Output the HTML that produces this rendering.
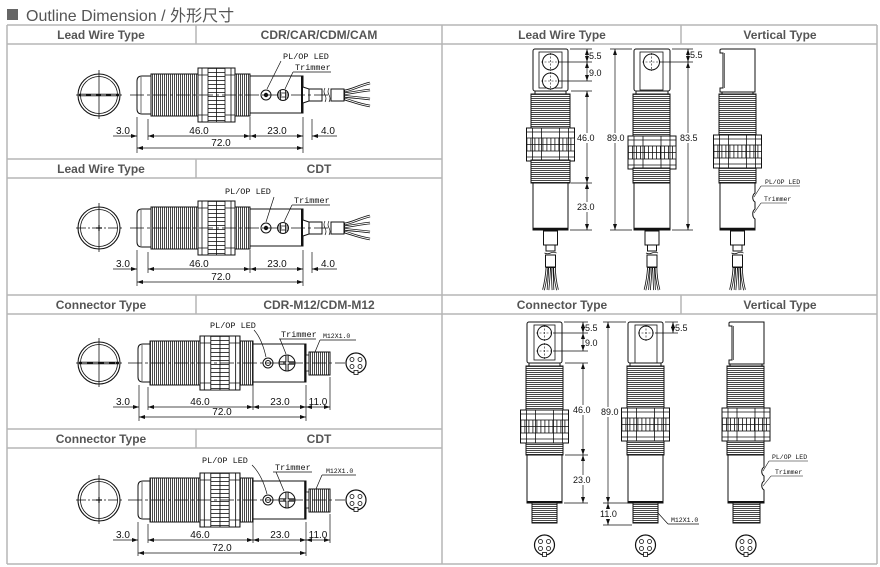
<!DOCTYPE html>
<html><head><meta charset="utf-8"><style>
html,body{margin:0;padding:0;background:#fff;}
svg{display:block;}
.h{font-family:"Liberation Sans",Arial,sans-serif;font-weight:bold;font-size:12px;fill:#555;text-anchor:middle;}
.d{font-family:"Liberation Sans",Arial,sans-serif;font-size:10px;fill:#111;}
.dv{font-family:"Liberation Sans",Arial,sans-serif;font-size:9px;fill:#111;}
.m{font-family:"Liberation Mono","DejaVu Sans Mono",monospace;font-size:8.5px;fill:#111;}
.ms{font-family:"Liberation Mono","DejaVu Sans Mono",monospace;font-size:6.5px;fill:#111;}
.c{text-anchor:middle;}
</style></head><body>
<svg width="880" height="567" viewBox="0 0 880 567" xmlns="http://www.w3.org/2000/svg">
<defs>
<pattern id="vt" width="2" height="10" patternUnits="userSpaceOnUse"><rect width="2" height="10" fill="#fff"/><rect width="0.9" height="10" fill="#333"/></pattern>
<pattern id="ht" width="10" height="2" patternUnits="userSpaceOnUse"><rect width="10" height="2" fill="#fff"/><rect width="10" height="0.9" fill="#333"/></pattern>
<pattern id="vn" width="4" height="20" patternUnits="userSpaceOnUse"><rect width="4" height="20" fill="#fff"/><rect width="0.8" height="20" fill="#111"/></pattern>
<pattern id="hn" width="20" height="4" patternUnits="userSpaceOnUse"><rect width="20" height="4" fill="#fff"/><rect width="20" height="0.8" fill="#111"/></pattern>
<marker id="a" viewBox="0 0 6 4" refX="6" refY="2" markerWidth="6" markerHeight="4" orient="auto-start-reverse" markerUnits="userSpaceOnUse"><path d="M0,0 L6,2 L0,4Z" fill="#111"/></marker>

<g id="hnut">
 <rect width="37" height="54" fill="#fff" stroke="#111"/>
 <rect x="10" y="0" width="17" height="54" fill="url(#hn)" stroke="#111" stroke-width="0.8"/>
 <path d="M18.5,0 V54 M4,0 V54 M33,0 V54 M0,7 H10 M27,7 H37 M0,47 H10 M27,47 H37" stroke="#111" stroke-width="0.8" fill="none"/>
</g>
<g id="vnut">
 <rect width="48" height="33" fill="#fff" stroke="#111"/>
 <rect x="0" y="10" width="48" height="13" fill="url(#vn)" stroke="#111" stroke-width="0.8"/>
 <path d="M0,16.5 H48 M6,0 V33 M15,0 V33 M33,0 V33 M42,0 V33 M0,4 H48 M0,29 H48" stroke="#111" stroke-width="0.8" fill="none"/>
</g>
<g id="face" fill="none" stroke="#111" stroke-width="0.8">
 <circle r="10" stroke-width="1.2" fill="#fff"/>
 <circle cx="-4" cy="-3.5" r="2"/><circle cx="4" cy="-3.5" r="2"/><circle cx="-4" cy="3.5" r="2"/><circle cx="4" cy="3.5" r="2"/>
 <rect x="-2" y="7.5" width="4" height="4" fill="#fff"/>
</g>
<g id="vcable" fill="#fff" stroke="#111">
 <rect x="-7" y="1" width="14" height="14"/>
 <rect x="-4.5" y="15" width="9" height="6"/>
 <path d="M-6,23 q3,1.5 6,0 q3,-1.5 6,0" fill="none" stroke-width="0.7"/>
 <rect x="-5" y="25" width="10" height="12"/>
 <g fill="none" stroke-width="2.6"><path d="M-3.5,37 C-4,45 -5,52 -7,60 M-1,37 C-1,45 -2,52 -2.5,60 M1.5,37 C2,45 2,52 2.5,60 M4,37 C4,45 5,52 7,60"/></g>
 <g fill="none" stroke="#fff" stroke-width="1"><path d="M-3.5,38 C-4,45 -5,52 -7,60 M-1,38 C-1,45 -2,52 -2.5,60 M1.5,38 C2,45 2,52 2.5,60 M4,38 C4,45 5,52 7,60"/></g>
</g>
<g id="front">
 <circle cx="99" cy="0" r="21" fill="#fff" stroke="#111" stroke-width="1.1"/>
 <circle cx="99" cy="0" r="18.5" fill="none" stroke="#111" stroke-width="0.8"/>
 <line x1="99" y1="-25" x2="99" y2="24" stroke="#111" stroke-width="0.8"/>
 <line x1="76" y1="0" x2="124" y2="0" stroke="#111" stroke-width="0.8" stroke-dasharray="10 2 2 2"/>
</g>

<g id="hlead">
 <use href="#front"/>
 <path d="M151,-19 H142 Q137,-19 137,-14 V14 Q137,19 142,19 H151" fill="#fff" stroke="#111"/>
 <line x1="141" y1="-18" x2="141" y2="18" stroke="#111" stroke-width="0.6"/>
 <rect x="151" y="-21" width="47" height="42" fill="url(#vt)" stroke="#111"/>
 <use href="#hnut" x="198" y="-27"/>
 <rect x="235" y="-21" width="15" height="42" fill="url(#vt)" stroke="#111"/>
 <rect x="250" y="-19" width="53" height="37" fill="#fff" stroke="#111"/>
 <line x1="302" y1="-19" x2="302" y2="18" stroke="#111" stroke-width="2"/>
 <circle cx="266" cy="0" r="5" fill="#fff" stroke="#111"/><circle cx="266" cy="0" r="2.2" fill="#111"/>
 <circle cx="283" cy="0" r="5.5" fill="#fff" stroke="#111"/>
 <path d="M280.5,-4.5 V4.5 M285.5,-4.5 V4.5 M278,-2 H288 M278,2 H288" stroke="#111" stroke-width="0.8"/>
 <path d="M303,-8 L309,-6 V6 L303,8" fill="#fff" stroke="#111"/>
 <rect x="309" y="-6" width="13" height="12" fill="#fff" stroke="#111"/>
 <path d="M325,-7 q-2,3.5 0,7 q2,3.5 0,7 M329,-7 q-2,3.5 0,7 q2,3.5 0,7" fill="none" stroke="#111" stroke-width="0.7"/>
 <rect x="331" y="-6" width="13" height="12" fill="#fff" stroke="#111"/>
 <g fill="none" stroke="#111" stroke-width="2.6"><path d="M344,-4 C352,-5 358,-9 370,-12 M344,-1.3 C352,-2 360,-4 370,-5 M344,1.3 C352,2 360,3 370,4 M344,4 C352,6 358,9 370,11"/></g>
 <g fill="none" stroke="#fff" stroke-width="1"><path d="M345,-4 C352,-5 358,-9 370,-12 M345,-1.3 C352,-2 360,-4 370,-5 M345,1.3 C352,2 360,3 370,4 M345,4 C352,6 358,9 370,11"/></g>
 <line x1="130" y1="0" x2="330" y2="0" stroke="#111" stroke-width="0.7" stroke-dasharray="14 3 3 3"/>
</g>

<g id="hcon">
 <use href="#front"/>
 <path d="M150,-19 H143 Q138,-19 138,-14 V14 Q138,19 143,19 H150" fill="#fff" stroke="#111"/>
 <line x1="142" y1="-18" x2="142" y2="18" stroke="#111" stroke-width="0.6"/>
 <rect x="150" y="-22" width="50" height="44" fill="url(#vt)" stroke="#111"/>
 <use href="#hnut" transform="translate(200,-27) scale(1.08,1)"/>
 <rect x="240" y="-22" width="13" height="44" fill="url(#vt)" stroke="#111"/>
 <rect x="253" y="-19" width="53" height="38" fill="#fff" stroke="#111"/>
 <line x1="305" y1="-19" x2="305" y2="19" stroke="#111" stroke-width="1.6"/>
 <circle cx="268" cy="0" r="5" fill="#fff" stroke="#111"/><circle cx="268" cy="0" r="2.5" fill="none" stroke="#111"/>
 <circle cx="287" cy="0" r="8" fill="#fff" stroke="#111"/>
 <path d="M279.5,0 H294.5 M287,-7.5 V7.5" stroke="#111" stroke-width="3.2"/>
 <path d="M279.5,0 H294.5 M287,-7.5 V7.5" stroke="#fff" stroke-width="1.2"/>
 <rect x="306" y="-8" width="3" height="16" fill="#fff" stroke="#111" stroke-width="0.8"/>
 <rect x="309" y="-11" width="21" height="23" fill="url(#vt)" stroke="#111"/>
 <use href="#face" x="356" y="0"/>
 <line x1="128" y1="0" x2="345" y2="0" stroke="#111" stroke-width="0.7" stroke-dasharray="14 3 3 3"/>
</g>
</defs>

<rect width="880" height="567" fill="#fff"/>

<!-- title -->
<rect x="7" y="9" width="11" height="11" fill="#666"/>
<text x="26" y="21" style="font-family:'Liberation Sans','Noto Sans CJK SC',sans-serif;font-size:16px;fill:#555;">Outline Dimension / 外形尺寸</text>

<!-- table lines -->
<path d="M7,25 H877 M7,44 H877 M7,159 H442 M7,178 H442 M7,295 H877 M7,314 H877 M7,429 H442 M7,448 H442 M7,564 H877 M7,25 V564 M442,25 V564 M877,25 V564 M196,25 V44 M196,159 V178 M196,295 V314 M196,429 V448 M681,25 V44 M681,295 V314" stroke="#b5b5b5" stroke-width="1.5" fill="none"/>

<!-- headers -->
<text class="h" x="101" y="39">Lead Wire Type</text>
<text class="h" x="319" y="39">CDR/CAR/CDM/CAM</text>
<text class="h" x="101" y="173">Lead Wire Type</text>
<text class="h" x="319" y="173">CDT</text>
<text class="h" x="101" y="309">Connector Type</text>
<text class="h" x="319" y="309">CDR-M12/CDM-M12</text>
<text class="h" x="101" y="443">Connector Type</text>
<text class="h" x="319" y="443">CDT</text>
<text class="h" x="562" y="39">Lead Wire Type</text>
<text class="h" x="780" y="39">Vertical Type</text>
<text class="h" x="562" y="309">Connector Type</text>
<text class="h" x="780" y="309">Vertical Type</text>

<!-- ROW 1 -->
<g transform="translate(0,95)">
 <use href="#hlead"/>
 <line x1="79" y1="0" x2="119" y2="0" stroke="#111" stroke-width="2.4"/>
 <line x1="81" y1="0" x2="117" y2="0" stroke="#fff" stroke-width="0.8" stroke-dasharray="5 5"/>
 <g stroke="#111" stroke-width="0.7" fill="none">
  <path d="M137,22 V58 M148,24 V45 M250,22 V45 M303,22 V58 M312,24 V45"/>
  <line x1="113" y1="41" x2="137" y2="41" marker-end="url(#a)"/>
  <line x1="148" y1="41" x2="250" y2="41" marker-start="url(#a)" marker-end="url(#a)"/>
  <line x1="250" y1="41" x2="303" y2="41" marker-start="url(#a)" marker-end="url(#a)"/>
  <line x1="337" y1="41" x2="312" y2="41" marker-end="url(#a)"/>
  <line x1="137" y1="53" x2="303" y2="53" marker-start="url(#a)" marker-end="url(#a)"/>
  <path d="M281,-34 L267,-6 M293,-23 H331 M293,-23 L285,-6"/>
 </g>
 <text class="d" x="116" y="39">3.0</text>
 <text class="d c" x="199" y="39">46.0</text>
 <text class="d c" x="277" y="39">23.0</text>
 <text class="d" x="321" y="39">4.0</text>
 <text class="d c" x="221" y="51">72.0</text>
 <text class="m" x="283" y="-36">PL/OP LED</text>
 <text class="m" x="295" y="-25">Trimmer</text>
</g>

<!-- ROW 2 -->
<g transform="translate(0,228)">
 <use href="#hlead"/>
 <path d="M96,0 H102 M99,-3 V3" stroke="#111" stroke-width="1.2"/>
 <g stroke="#111" stroke-width="0.7" fill="none">
  <path d="M137,22 V58 M148,24 V45 M250,22 V45 M303,22 V58 M312,24 V45"/>
  <line x1="113" y1="41" x2="137" y2="41" marker-end="url(#a)"/>
  <line x1="148" y1="41" x2="250" y2="41" marker-start="url(#a)" marker-end="url(#a)"/>
  <line x1="250" y1="41" x2="303" y2="41" marker-start="url(#a)" marker-end="url(#a)"/>
  <line x1="337" y1="41" x2="312" y2="41" marker-end="url(#a)"/>
  <line x1="137" y1="54" x2="303" y2="54" marker-start="url(#a)" marker-end="url(#a)"/>
  <path d="M274,-31 L266,-6 M292,-23 H330 M292,-23 L284,-6"/>
 </g>
 <text class="d" x="116" y="39">3.0</text>
 <text class="d c" x="199" y="39">46.0</text>
 <text class="d c" x="277" y="39">23.0</text>
 <text class="d" x="321" y="39">4.0</text>
 <text class="d c" x="221" y="52">72.0</text>
 <text class="m" x="225" y="-34">PL/OP LED</text>
 <text class="m" x="294" y="-25">Trimmer</text>
</g>

<!-- ROW 3 -->
<g transform="translate(0,363)">
 <use href="#hcon"/>
 <line x1="79" y1="0" x2="119" y2="0" stroke="#111" stroke-width="2.4"/>
 <line x1="82" y1="0" x2="116" y2="0" stroke="#fff" stroke-width="0.8" stroke-dasharray="5 6"/>
 <g stroke="#111" stroke-width="0.7" fill="none">
  <path d="M139,22 V58 M148,24 V47 M253,22 V47 M306,22 V58 M330,14 V47"/>
  <line x1="113" y1="44" x2="139" y2="44" marker-end="url(#a)"/>
  <line x1="148" y1="44" x2="253" y2="44" marker-start="url(#a)" marker-end="url(#a)"/>
  <line x1="253" y1="44" x2="306" y2="44" marker-start="url(#a)" marker-end="url(#a)"/>
  <line x1="306" y1="44" x2="330" y2="44" marker-start="url(#a)" marker-end="url(#a)"/>
  <line x1="139" y1="54" x2="306" y2="54" marker-start="url(#a)" marker-end="url(#a)"/>
  <path d="M254,-33 Q262,-24 266,-6 M279,-24 H316 M280,-24 L286,-9 M320,-23 H356 M320,-23 L315,-11"/>
 </g>
 <text class="d" x="116" y="42">3.0</text>
 <text class="d c" x="200" y="42">46.0</text>
 <text class="d c" x="280" y="42">23.0</text>
 <text class="d c" x="318" y="42">11.0</text>
 <text class="d c" x="222" y="52">72.0</text>
 <text class="m" x="210" y="-35">PL/OP LED</text>
 <text class="m" x="281" y="-26">Trimmer</text>
 <text class="ms" x="323" y="-25">M12X1.0</text>
</g>

<!-- ROW 4 -->
<g transform="translate(0,500)">
 <use href="#hcon"/>
 <path d="M96,0 H102 M99,-3 V3" stroke="#111" stroke-width="1.2"/>
 <g stroke="#111" stroke-width="0.7" fill="none">
  <path d="M138,22 V56 M148,24 V43 M253,22 V43 M306,22 V56 M330,14 V43"/>
  <line x1="113" y1="40" x2="138" y2="40" marker-end="url(#a)"/>
  <line x1="148" y1="40" x2="253" y2="40" marker-start="url(#a)" marker-end="url(#a)"/>
  <line x1="253" y1="40" x2="306" y2="40" marker-start="url(#a)" marker-end="url(#a)"/>
  <line x1="306" y1="40" x2="330" y2="40" marker-start="url(#a)" marker-end="url(#a)"/>
  <line x1="138" y1="53" x2="306" y2="53" marker-start="url(#a)" marker-end="url(#a)"/>
  <path d="M252,-35 Q262,-25 267,-6 M273,-28 H312 M276,-28 L284,-9 M322,-25 H356 M322,-25 L316,-11"/>
 </g>
 <text class="d" x="116" y="38">3.0</text>
 <text class="d c" x="200" y="38">46.0</text>
 <text class="d c" x="280" y="38">23.0</text>
 <text class="d c" x="318" y="38">11.0</text>
 <text class="d c" x="222" y="51">72.0</text>
 <text class="m" x="202" y="-37">PL/OP LED</text>
 <text class="m" x="275" y="-30">Trimmer</text>
 <text class="ms" x="326" y="-27">M12X1.0</text>
</g>

<!-- ============ RIGHT TOP ============ -->
<!-- Drawing 1 -->
<g stroke="#111" fill="#fff">
 <rect x="533" y="49" width="35" height="42" rx="2"/>
 <rect x="539" y="52" width="23" height="36" fill="none" stroke-width="0.8"/>
 <circle cx="550.5" cy="62" r="8"/><circle cx="550.5" cy="81" r="8"/>
 <path d="M541,62 H560 M550.5,53 V71 M541,81 H560 M550.5,72 V90" stroke-width="0.6" stroke-dasharray="2 1.5" fill="none"/>
 <rect x="535" y="91" width="31" height="3"/>
 <rect x="531" y="94" width="39" height="34" fill="url(#ht)"/>
 <use href="#vnut" x="526.5" y="128"/>
 <rect x="531" y="160" width="39" height="23" fill="url(#ht)"/>
 <rect x="533" y="183" width="35" height="47"/>
 <line x1="533" y1="229" x2="568" y2="229" stroke-width="2.5"/>
</g>
<use href="#vcable" x="550.5" y="230"/>
<g stroke="#111" stroke-width="0.7" fill="none">
 <path d="M570,49 H592 M558,62 H592 M558,81 H592 M571,91 H592 M571,183 H592 M570,230 H592"/>
 <line x1="587" y1="49" x2="587" y2="62" marker-start="url(#a)" marker-end="url(#a)"/>
 <line x1="587" y1="62" x2="587" y2="81" marker-start="url(#a)" marker-end="url(#a)"/>
 <line x1="587" y1="91" x2="587" y2="183" marker-start="url(#a)" marker-end="url(#a)"/>
 <line x1="587" y1="183" x2="587" y2="230" marker-start="url(#a)" marker-end="url(#a)"/>
</g>
<rect x="577" y="133" width="19" height="10" fill="#fff"/>
<rect x="577" y="202" width="19" height="10" fill="#fff"/>
<text class="dv" x="589" y="59">5.5</text>
<text class="dv" x="589" y="76">9.0</text>
<text class="dv" x="577" y="141">46.0</text>
<text class="dv" x="577" y="210">23.0</text>

<!-- Drawing 2 -->
<g stroke="#111" fill="#fff">
 <rect x="634" y="49" width="36" height="42" rx="2"/>
 <rect x="640" y="52" width="23" height="38" fill="none" stroke-width="0.8"/>
 <circle cx="651.5" cy="62" r="8"/>
 <path d="M642,62 H661 M651.5,53 V71" stroke-width="0.6" stroke-dasharray="2 1.5" fill="none"/>
 <rect x="636" y="91" width="32" height="3"/>
 <rect x="633" y="94" width="37" height="42" fill="url(#ht)"/>
 <use href="#vnut" x="628" y="136"/>
 <rect x="633" y="168" width="37" height="15" fill="url(#ht)"/>
 <rect x="634" y="183" width="36" height="47"/>
 <line x1="634" y1="229" x2="670" y2="229" stroke-width="2.5"/>
</g>
<use href="#vcable" x="652" y="230"/>
<g stroke="#111" stroke-width="0.7" fill="none">
 <path d="M610,49 H632 M610,230 H632 M672,49 H693 M660,62 H693 M672,230 H693"/>
 <line x1="615" y1="49" x2="615" y2="230" marker-start="url(#a)" marker-end="url(#a)"/>
 <line x1="688" y1="49" x2="688" y2="62" marker-start="url(#a)" marker-end="url(#a)"/>
 <line x1="688" y1="62" x2="688" y2="230" marker-start="url(#a)" marker-end="url(#a)"/>
</g>
<rect x="606" y="133" width="19" height="10" fill="#fff"/>
<rect x="679" y="133" width="19" height="10" fill="#fff"/>
<text class="dv" x="607" y="141">89.0</text>
<text class="dv" x="680" y="141">83.5</text>
<text class="dv" x="690" y="58">5.5</text>

<!-- Drawing 3 -->
<g stroke="#111" fill="#fff">
 <path d="M720,53 V50 Q720,49 722,49 H755 V92 H720 V88 H723 V53 Z"/>
 <line x1="724.5" y1="53" x2="724.5" y2="88" stroke-width="0.6"/>
 <rect x="722" y="92" width="31" height="2"/>
 <rect x="719" y="94" width="37" height="41" fill="url(#ht)"/>
 <use href="#vnut" x="713.5" y="135"/>
 <rect x="719" y="168" width="37" height="15" fill="url(#ht)"/>
 <path d="M720,183 H755 V193 C752,195 752,200 755,202 V209 C752,211 752,217 755,219 V230 H720 Z"/>
 <line x1="720" y1="229" x2="755" y2="229" stroke-width="2.5"/>
</g>
<use href="#vcable" x="737.5" y="230"/>
<g stroke="#111" stroke-width="0.6" fill="none">
 <path d="M761,186 H800 M761,186 L754,197 M761,203 H787 M761,203 L754,213"/>
</g>
<text class="ms" x="765" y="184">PL/OP LED</text>
<text class="ms" x="764" y="201">Trimmer</text>

<!-- ============ RIGHT BOTTOM ============ -->
<!-- Drawing 1 -->
<g stroke="#111" fill="#fff">
 <rect x="527" y="322" width="35" height="41" rx="2"/>
 <rect x="534" y="325" width="21" height="35" fill="none" stroke-width="0.8"/>
 <circle cx="544.5" cy="333" r="7"/><circle cx="544.5" cy="351" r="7"/>
 <path d="M536,333 H553 M544.5,325 V341 M536,351 H553 M544.5,343 V359" stroke-width="0.6" stroke-dasharray="2 1.5" fill="none"/>
 <rect x="529" y="363" width="31" height="3"/>
 <rect x="526" y="366" width="37" height="44" fill="url(#ht)"/>
 <use href="#vnut" x="520.5" y="410"/>
 <rect x="526" y="443" width="37" height="12" fill="url(#ht)"/>
 <rect x="527" y="455" width="35" height="48"/>
 <line x1="527" y1="502" x2="562" y2="502" stroke-width="2"/>
 <rect x="532" y="503" width="25" height="20" fill="url(#ht)"/>
</g>
<use href="#face" x="544.5" y="545"/>
<g stroke="#111" stroke-width="0.7" fill="none">
 <path d="M564,322 H588 M553,333 H588 M553,351 H588 M565,363 H588 M565,455 H588 M564,503 H588"/>
 <line x1="583" y1="322" x2="583" y2="333" marker-start="url(#a)" marker-end="url(#a)"/>
 <line x1="583" y1="333" x2="583" y2="351" marker-start="url(#a)" marker-end="url(#a)"/>
 <line x1="583" y1="363" x2="583" y2="455" marker-start="url(#a)" marker-end="url(#a)"/>
 <line x1="583" y1="455" x2="583" y2="503" marker-start="url(#a)" marker-end="url(#a)"/>
</g>
<rect x="572" y="405" width="19" height="10" fill="#fff"/>
<rect x="572" y="475" width="19" height="10" fill="#fff"/>
<text class="dv" x="585" y="331">5.5</text>
<text class="dv" x="585" y="346">9.0</text>
<text class="dv" x="573" y="413">46.0</text>
<text class="dv" x="573" y="483">23.0</text>

<!-- Drawing 2 -->
<g stroke="#111" fill="#fff">
 <rect x="628" y="322" width="35" height="41" rx="2"/>
 <rect x="635" y="325" width="22" height="38" fill="none" stroke-width="0.8"/>
 <circle cx="646" cy="333" r="7"/>
 <path d="M638,333 H654 M646,325 V341" stroke-width="0.6" stroke-dasharray="2 1.5" fill="none"/>
 <rect x="630" y="363" width="31" height="3"/>
 <rect x="627" y="366" width="37" height="42" fill="url(#ht)"/>
 <use href="#vnut" x="621.5" y="408"/>
 <rect x="627" y="441" width="37" height="14" fill="url(#ht)"/>
 <rect x="628" y="455" width="35" height="48"/>
 <line x1="628" y1="502" x2="663" y2="502" stroke-width="2"/>
 <rect x="633" y="503" width="25" height="20" fill="url(#ht)"/>
</g>
<use href="#face" x="645.5" y="545"/>
<g stroke="#111" stroke-width="0.7" fill="none">
 <path d="M603,322 H626 M603,503 H630 M603,525 H632 M665,322 H678 M655,333 H678"/>
 <line x1="608" y1="322" x2="608" y2="503" marker-start="url(#a)" marker-end="url(#a)"/>
 <line x1="608" y1="503" x2="608" y2="525" marker-start="url(#a)" marker-end="url(#a)"/>
 <line x1="673" y1="322" x2="673" y2="333" marker-start="url(#a)" marker-end="url(#a)"/>
 <path d="M668,524 H699 M668,524 L658,513"/>
</g>
<rect x="600" y="407" width="19" height="10" fill="#fff"/>
<rect x="599" y="509" width="19" height="10" fill="#fff"/>
<text class="dv" x="601" y="415">89.0</text>
<text class="dv" x="600" y="517">11.0</text>
<text class="dv" x="675" y="331">5.5</text>
<text class="ms" x="671" y="522">M12X1.0</text>

<!-- Drawing 3 -->
<g stroke="#111" fill="#fff">
 <path d="M729,326 V323 Q729,322 731,322 H764 V364 H729 V360 H732 V326 Z"/>
 <line x1="733.5" y1="326" x2="733.5" y2="360" stroke-width="0.6"/>
 <rect x="730" y="364" width="32" height="2"/>
 <rect x="727" y="366" width="37" height="42" fill="url(#ht)"/>
 <use href="#vnut" x="722" y="408"/>
 <rect x="727" y="441" width="37" height="14" fill="url(#ht)"/>
 <path d="M728,455 H764 V467 C761,469 761,474 764,476 V481 C761,483 761,488 764,490 V503 H728 Z"/>
 <line x1="728" y1="502" x2="764" y2="502" stroke-width="2"/>
 <rect x="733" y="503" width="27" height="20" fill="url(#ht)"/>
</g>
<use href="#face" x="746" y="545"/>
<g stroke="#111" stroke-width="0.6" fill="none">
 <path d="M769,461 H808 M769,461 L763,471 M771,476 H803 M771,476 L763,486"/>
</g>
<text class="ms" x="772" y="459">PL/OP LED</text>
<text class="ms" x="775" y="474">Trimmer</text>
</svg>
</body></html>
